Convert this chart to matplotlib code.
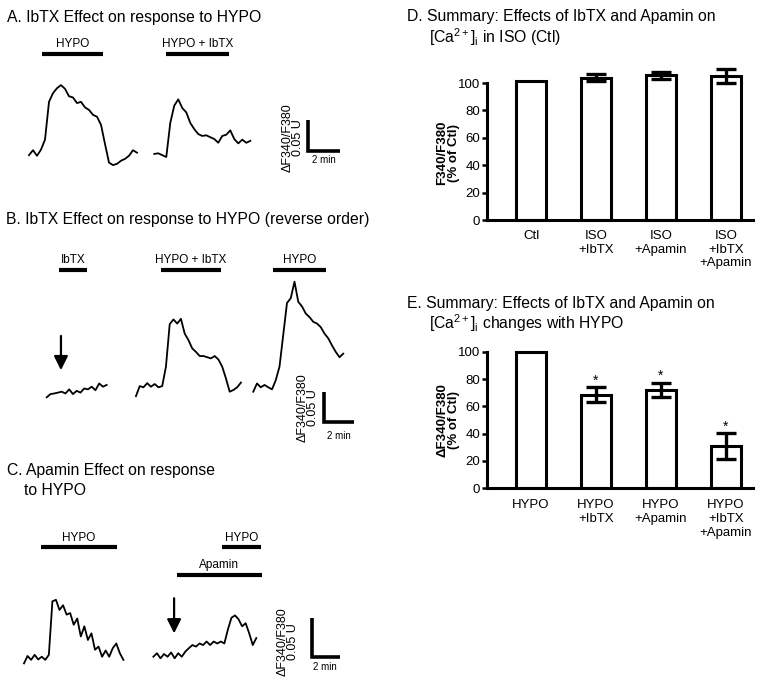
import numpy as np
import matplotlib
matplotlib.use('Agg')
from matplotlib import pyplot as plt

plt.rcParams['font.family'] = ['Liberation Sans', 'DejaVu Sans']
plt.rcParams['mathtext.fontset'] = 'custom'
plt.rcParams['mathtext.rm'] = 'Liberation Sans'
plt.rcParams['mathtext.it'] = 'Liberation Sans:italic'
plt.rcParams['mathtext.bf'] = 'Liberation Sans:bold'

W, H = 762, 685

# ---------------- summary data (% of control) ----------------
iso_labels = ['Ctl', 'ISO\n+IbTX', 'ISO\n+Apamin', 'ISO\n+IbTX\n+Apamin']
iso_mean = [101.5, 104, 105.5, 105]
iso_err = [0, 2.8, 2.8, 5]

hypo_labels = ['HYPO', 'HYPO\n+IbTX', 'HYPO\n+Apamin', 'HYPO\n+IbTX\n+Apamin']
hypo_mean = [100, 68.5, 72.2, 30.7]
hypo_err = [0, 5.5, 5, 9.5]
hypo_sig = [False, True, True, True]

# ---------------- traces, units of 0.01 dF340/F380, one point every 0.25 min ----------------
dt = 0.25
a_hypo = [-0.3, 0.5, -0.4, 0.6, 2.2, 8.3, 9.7, 10.5, 11.0, 10.4, 9.2, 9.0, 8.1, 8.3, 7.4,
          7.0, 6.2, 5.9, 4.6, 1.5, -1.5, -1.9, -1.7, -1.2, -0.9, -0.4, 0.5, 0.1]
a_hypo_ibtx = [0, 0.1, -0.2, -0.5, 5.0, 7.8, 8.8, 7.4, 6.7, 5.0, 4.0, 3.2, 2.9, 3.0, 2.7,
               2.4, 1.8, 2.9, 3.1, 3.8, 2.4, 1.7, 2.3, 1.8, 2.1]

b_ibtx = [-0.1, 0.45, 0.55, 0.7, 0.85, 0.55, 1.25, 0.45, 1.0, 0.7, 1.4, 1.25, 1.7, 1.1,
          2.25, 1.7, 2.0]
b_hypo_ibtx = [-1.6, 0.1, -0.1, 0.6, 0, 0.45, -0.1, 0.1, 3.4, 10.6, 11.4, 10.7, 11.5, 9.0,
               7.9, 6.5, 5.9, 5.2, 5.2, 5.0, 4.8, 5.2, 4.6, 3.4, 1.4, -0.85, -0.55, -0.1, 0.7]
b_hypo = [-0.85, 0.55, -0.1, 0.3, -0.1, -0.45, 1.1, 3.4, 8.8, 14.2, 15.0, 17.8, 14.4, 13.6,
          12.4, 11.8, 11.0, 10.7, 10.1, 9.0, 8.2, 7.0, 5.9, 5.0, 5.6]

c_hypo = [-0.65, 0.3, -0.2, 0.45, -0.15, 0.2, -0.2, 0.45, 7.3, 7.5, 6.2, 6.8, 5.6, 5.8, 4.3,
          5.1, 2.8, 4.1, 2.35, 3.2, 1.1, 1.5, 0.2, 1.0, 0.2, 1.3, 1.9, 0.65, -0.2]
c_apamin = [-0.1, 0.35, -0.3, 0.25, -0.1, 0.45, -0.3, 0.35, -0.1, 0.55, 1.0, 1.4, 1.2, 1.6,
            1.4, 1.85, 1.4, 1.85, 1.6, 1.85, 1.6, 3.4, 4.9, 5.2, 4.7, 3.8, 4.2, 2.9, 1.4, 2.3]

# drug application windows, minutes from the start of each trace
a_hypo_app = (0.8, 4.6)
a_hypo_ibtx_app = (0.73, 4.67)
b_ibtx_app = (0.82, 2.69)
b_hypo_ibtx_app = (1.67, 5.67)
b_hypo_app = (1.31, 4.85)
c_hypo_app = (1.18, 6.57)
c2_hypo_app = (4.86, 7.56)
c2_apamin_app = (1.65, 7.63)

fig = plt.figure(figsize=(W / 100, H / 100), dpi=100)


def fx(px):
    return px / W


def fy(py):
    return 1 - py / H


def trace_axes(top, bottom, ox, oy, ppm, ppu):
    # axes in minutes / ratio units, placed so data (0, 0) sits at pixel (ox, oy)
    ax = fig.add_axes([0, fy(bottom), 380 / W, (bottom - top) / H])
    ax.set_xlim(-ox / ppm, (380 - ox) / ppm)
    ax.set_ylim((oy - bottom) / ppu, (oy - top) / ppu)
    ax.axis('off')
    return ax


def trace(ax, vals, t0, y0):
    t = t0 + dt * np.arange(len(vals))
    ax.plot(t, y0 + 0.01 * np.array(vals), color='k', lw=1.3)


def drug(ax, label, app, t0, y, gap):
    ax.plot([t0 + app[0], t0 + app[1]], [y, y], color='k', lw=3, solid_capstyle='butt')
    ax.text(t0 + (app[0] + app[1]) / 2, y + gap, label, ha='center', va='baseline', fontsize=8.5)


def scalebar(ax, x, y):
    ax.plot([x, x, x + 2], [y + 0.05, y, y], color='k', lw=2.6,
            solid_joinstyle='miter', solid_capstyle='butt')


def arrow(ax, x, y_tail, y_tip):
    ax.annotate('', xy=(x, y_tip), xytext=(x, y_tail),
                arrowprops=dict(arrowstyle='-|>,head_length=0.6,head_width=0.3',
                                color='k', lw=1.6, mutation_scale=14, shrinkA=0, shrinkB=0))


def scale_text(xc, yc, x2, y2):
    fig.text(fx(xc), fy(yc), '\u0394F340/F380\n0.05 U', rotation=90, ha='center', va='center',
             multialignment='center', fontsize=9, linespacing=0.85)
    fig.text(fx(x2), fy(y2), '2 min', ha='center', va='center', fontsize=7)


# ---------------- panel A ----------------
fig.text(fx(7), fy(22), 'A. IbTX Effect on response to HYPO', fontsize=11.3, va='baseline')
ppm, ppu = 16, 620
axA = trace_axes(40, 185, 29, 153.3, ppm, ppu)
trace(axA, a_hypo, 0, 0)
trace(axA, a_hypo_ibtx, 7.83, -0.001)
drug(axA, 'HYPO', a_hypo_app, 0, 0.160, 7.5 / ppu)
drug(axA, 'HYPO + IbTX', a_hypo_ibtx_app, 7.83, 0.160, 7.5 / ppu)
scalebar(axA, 17.44, 0.0037)
scale_text(293, 138, 324, 160)

# ---------------- panel B ----------------
fig.text(fx(6), fy(224), 'B. IbTX Effect on response to HYPO (reverse order)', fontsize=11.3, va='baseline')
ppm, ppu = 15, 590
axB = trace_axes(245, 450, 46.7, 386.7, ppm, ppu)
trace(axB, b_ibtx, 0, -0.017)
trace(axB, b_hypo_ibtx, 5.95, 0)
trace(axB, b_hypo, 13.77, 0)
drug(axB, 'IbTX', b_ibtx_app, 0, 0.198, 6.7 / ppu)
drug(axB, 'HYPO + IbTX', b_hypo_ibtx_app, 5.95, 0.198, 6.7 / ppu)
drug(axB, 'HYPO', b_hypo_app, 13.77, 0.198, 6.7 / ppu)
arrow(axB, 0.95, 0.086, 0.028)
scalebar(axB, 18.49, -0.0598)
scale_text(308, 408, 339, 436)

# ---------------- panel C ----------------
fig.text(fx(7), fy(475), 'C. Apamin Effect on response', fontsize=11.3, va='baseline')
fig.text(fx(24), fy(495), 'to HYPO', fontsize=11.3, va='baseline')
ppm, ppu = 14.2, 780
axC = trace_axes(520, 685, 24, 658.3, ppm, ppu)
trace(axC, c_hypo, 0, 0)
trace(axC, c_apamin, 9.11, 0.003)
drug(axC, 'HYPO', c_hypo_app, 0, 0.143, 6 / ppu)
drug(axC, 'HYPO', c2_hypo_app, 9.11, 0.143, 6 / ppu)
drug(axC, 'Apamin', c2_apamin_app, 9.11, 0.107, 6.7 / ppu)
arrow(axC, 9.11 + 1.46, 0.077, 0.032)
scalebar(axC, 20.26, 0.0013)
scale_text(288, 642, 325, 667)


# ---------------- summary bar charts ----------------
def summary_axes(zero_py, px_per_unit):
    top = zero_py - 112 * px_per_unit
    ax = fig.add_axes([fx(487), fy(zero_py), (753 - 487) / W, (zero_py - top) / H])
    ax.set_ylim(0, 112)
    ax.set_xlim((487 - 531) / 65, (753 - 531) / 65)
    for s in ['top', 'right']:
        ax.spines[s].set_visible(False)
    ax.spines['left'].set_bounds(0, 100)
    for s in ['left', 'bottom']:
        ax.spines[s].set_linewidth(2.2)
    ax.set_yticks(range(0, 101, 20))
    ax.tick_params(axis='y', length=3.5, width=1.8, labelsize=9.5, pad=1.5)
    return ax


def summary_bars(ax, labels, mean, err, pad):
    x = np.arange(len(mean))
    ax.bar(x, mean, width=0.47, facecolor='white', edgecolor='k', linewidth=2.2)
    ax.errorbar(x[1:], mean[1:], yerr=err[1:], fmt='none', ecolor='k',
                elinewidth=2.4, capsize=7, capthick=2.4)
    ax.set_xticks(x)
    ax.set_xticklabels(labels, fontsize=9.5)
    ax.tick_params(axis='x', length=0, pad=pad)


axD = summary_axes(220, 1.37)
summary_bars(axD, iso_labels, iso_mean, iso_err, 7)
fig.text(fx(407), fy(21), 'D. Summary: Effects of IbTX and Apamin on', fontsize=11.3, va='baseline')
fig.text(fx(429), fy(43), '[Ca$^{2+}$]$_{\\mathrm{i}}$ in ISO (Ctl)', fontsize=11.3, va='baseline')
fig.text(fx(448), fy(153), 'F340/F380\n(% of Ctl)', rotation=90, ha='center', va='center',
         fontsize=9.5, fontweight='bold', linespacing=1.0)

axE = summary_axes(488.3, 1.366)
summary_bars(axE, hypo_labels, hypo_mean, hypo_err, 8)
for i in range(len(hypo_mean)):
    if hypo_sig[i]:
        axE.text(i, hypo_mean[i] + hypo_err[i] + 5, '*', ha='center', va='center', fontsize=10)
fig.text(fx(407), fy(308), 'E. Summary: Effects of IbTX and Apamin on', fontsize=11.3, va='baseline')
fig.text(fx(429), fy(329), '[Ca$^{2+}$]$_{\\mathrm{i}}$ changes with HYPO', fontsize=11.3, va='baseline')
fig.text(fx(448), fy(420), '\u0394F340/F380\n(% of Ctl)', rotation=90, ha='center', va='center',
         fontsize=9.5, fontweight='bold', linespacing=1.0)

plt.savefig('out.png', dpi=100)
